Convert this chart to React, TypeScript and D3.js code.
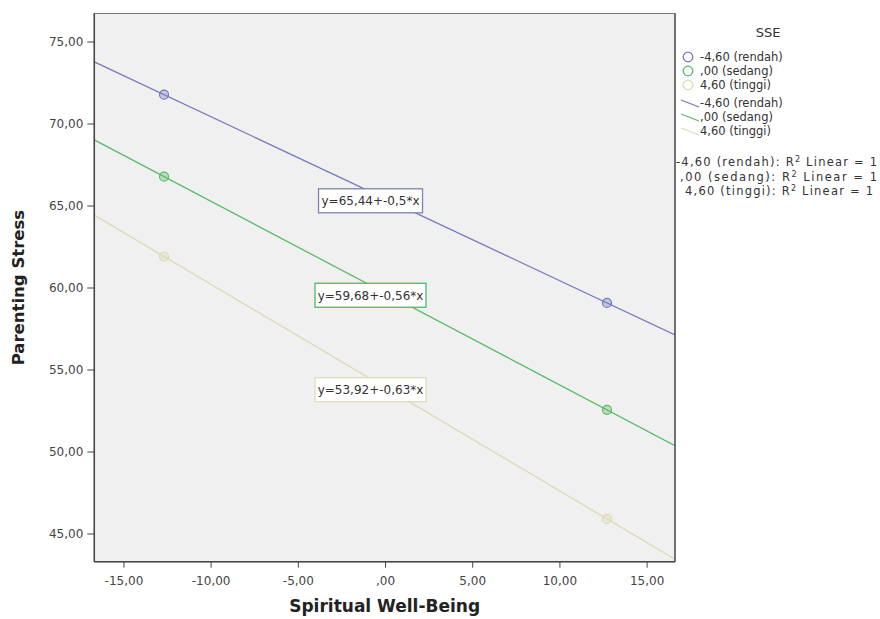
import React from "react";
import * as d3 from "d3";

const W = 880;
const H = 619;
const margin = { top: 13.5, right: 205, bottom: 57.3, left: 94.3 };

// SSE groups (moderator levels)
const groups = ["-4,60 (rendah)", ",00 (sedang)", "4,60 (tinggi)"];
const colors = ["#7479bd", "#5aba66", "#dcd9b4"];
const boxStrokes = ["#7d82b0", "#4fb862", "#dedbc0"];

// regression line per group: intercept / slope
const intercepts = [65.44, 59.68, 53.92];
const slopes = [-0.5, -0.56, -0.63];
const equations = ["y=65,44+-0,5*x", "y=59,68+-0,56*x", "y=53,92+-0,63*x"];

// plotted points (Spiritual Well-Being at -1SD / +1SD)
const pointX = [-12.7, 12.7];
const pointY = [
  [71.79, 59.09],
  [66.79, 52.57],
  [61.92, 45.92],
];

const xTicks = [-15, -10, -5, 0, 5, 10, 15];
const yTicks = [45, 50, 55, 60, 65, 70, 75];

const fmt = (d: number) => {
  const s = d.toFixed(2).replace(".", ",");
  return s === "0,00" ? ",00" : s;
};

const FONT = "'DejaVu Sans', Arial, sans-serif";

export default function App() {
  const x = d3.scaleLinear().domain([-16.7, 16.6]).range([margin.left, W - margin.right]);
  const y = d3.scaleLinear().domain([43.31, 76.74]).range([H - margin.bottom, margin.top]);
  const [x0, x1] = x.domain();
  const line = d3
    .line<[number, number]>()
    .x(d => x(d[0]))
    .y(d => y(d[1]));

  const plotW = x.range()[1] - x.range()[0];
  const plotH = y.range()[0] - y.range()[1];
  const bottom = y.range()[0];
  const r2Widths = [201, 197, 188];

  return (
    <svg width={W} height={H} style={{ position: "absolute", left: 0, top: 0, background: "#fff" }} fontFamily={FONT}>
      <defs>
        <clipPath id="plot">
          <rect x={margin.left} y={margin.top} width={plotW} height={plotH} />
        </clipPath>
      </defs>
      <rect x={margin.left} y={margin.top} width={plotW} height={plotH} fill="#f0f0f0" />

      <g clipPath="url(#plot)">
        {groups.map((g, i) => (
          <path
            key={g}
            d={line([
              [x0, intercepts[i] + slopes[i] * x0],
              [x1, intercepts[i] + slopes[i] * x1],
            ]) || ""}
            fill="none"
            stroke={colors[i]}
            strokeWidth={1.3}
          />
        ))}
        {groups.map((g, i) =>
          pointX.map((px, j) => (
            <circle
              key={g + j}
              cx={x(px)}
              cy={y(pointY[i][j])}
              r={4.5}
              fill={colors[i]}
              fillOpacity={0.35}
              stroke={colors[i]}
              strokeWidth={1.2}
            />
          ))
        )}
      </g>

      {/* equation labels */}
      {equations.map((e, i) => {
        const w = e.length * 7 + 6;
        const cx = x(0) - 15;
        const cy = y(intercepts[i]) + 2;
        return (
          <g key={e}>
            <rect x={cx - w / 2} y={cy - 12} width={w} height={24} fill="#fff" stroke={boxStrokes[i]} strokeWidth={1.3} />
            <text x={cx} y={cy + 4.5} textAnchor="middle" fontSize={12} fill="#333">
              {e}
            </text>
          </g>
        );
      })}

      {/* frame */}
      <rect x={margin.left} y={margin.top} width={plotW} height={plotH} fill="none" stroke="#777" strokeWidth={1} />
      <line x1={margin.left} x2={margin.left} y1={margin.top} y2={bottom} stroke="#444" strokeWidth={1.5} />
      <line x1={margin.left} x2={x.range()[1]} y1={bottom} y2={bottom} stroke="#444" strokeWidth={1.5} />
      <line x1={x.range()[1]} x2={x.range()[1]} y1={margin.top} y2={bottom} stroke="#444" strokeWidth={1.2} />

      {/* y axis */}
      {yTicks.map(t => (
        <g key={t} transform={`translate(${margin.left},${y(t)})`}>
          <line x1={-7} x2={0} stroke="#444" />
          <text x={-11} dy="0.35em" textAnchor="end" fontSize={12} fill="#444">
            {fmt(t)}
          </text>
        </g>
      ))}
      {/* x axis */}
      {xTicks.map(t => (
        <g key={t} transform={`translate(${x(t)},${bottom})`}>
          <line y1={0} y2={6} stroke="#444" />
          <text y={23} textAnchor="middle" fontSize={12} fill="#444">
            {fmt(t)}
          </text>
        </g>
      ))}

      <text x={(x.range()[0] + x.range()[1]) / 2} y={612} textAnchor="middle" fontSize={17} fontWeight="bold" fill="#222">
        Spiritual Well-Being
      </text>
      <text
        transform={`translate(24,${(margin.top + bottom) / 2}) rotate(-90)`}
        textAnchor="middle"
        fontSize={16.5}
        fontWeight="bold"
        fill="#222"
      >
        Parenting Stress
      </text>

      {/* legend */}
      <text x={768} y={37} textAnchor="middle" fontSize={13} fill="#333">
        SSE
      </text>
      {groups.map((g, i) => (
        <g key={"c" + g} transform={`translate(0,${57 + i * 14})`}>
          <circle cx={688} cy={0} r={4.8} fill="none" stroke={colors[i]} strokeWidth={1.3} />
          <text x={700} y={4} fontSize={11.5} fill="#333">
            {g}
          </text>
        </g>
      ))}
      {groups.map((g, i) => (
        <g key={"l" + g} transform={`translate(0,${103 + i * 14})`}>
          <line x1={681} y1={-3} x2={699} y2={4} stroke={colors[i]} strokeWidth={1.3} />
          <text x={700} y={4} fontSize={11.5} fill="#333">
            {g}
          </text>
        </g>
      ))}
      {groups.map((g, i) => (
        <text
          key={"r" + g}
          x={877 - r2Widths[i] - (i === 2 ? 4 : 0)}
          y={166 + i * 14.5}
          fontSize={11.5}
          fill="#333"
          textLength={r2Widths[i]}
          lengthAdjust="spacing"
        >
          {g}: R<tspan dy={-4} fontSize={8}>2</tspan>
          <tspan dy={4}> Linear = 1</tspan>
        </text>
      ))}
    </svg>
  );
}
